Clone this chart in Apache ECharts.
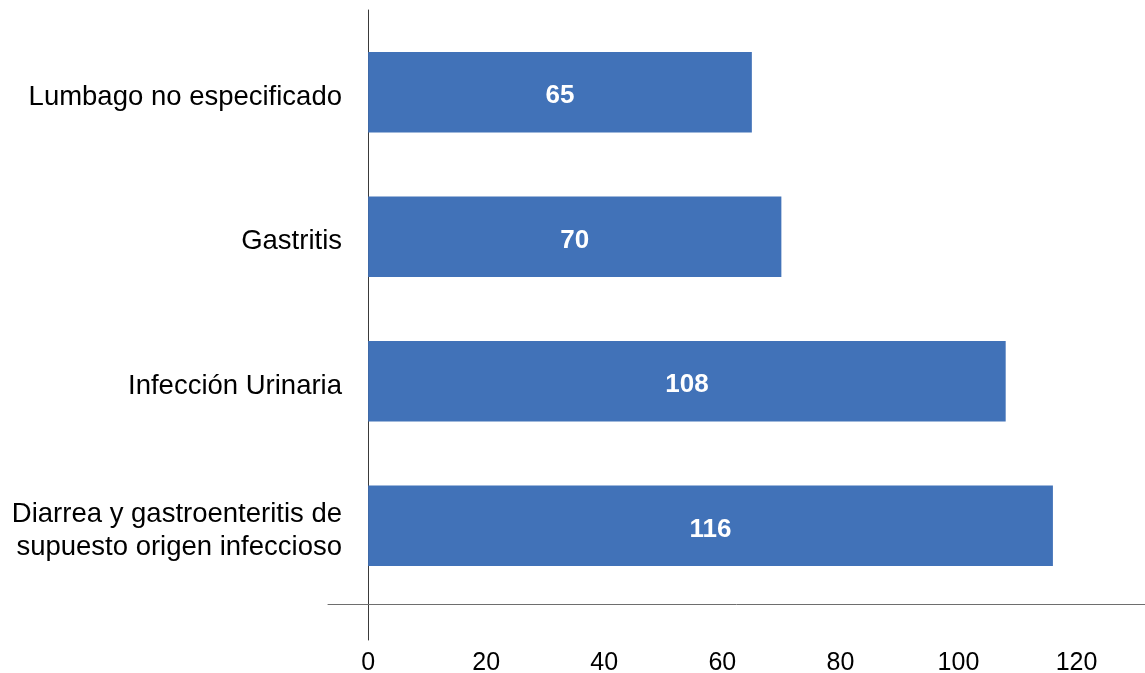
<!DOCTYPE html>
<html>
<head>
<meta charset="utf-8">
<script src="https://cdn.jsdelivr.net/npm/echarts@6/dist/echarts.min.js"></script>
<style>
html,body{margin:0;padding:0;background:#fff;}
#chart{width:1145px;height:673px;}
</style>
</head>
<body>
<div id="chart"></div>
<script>
const categories = [
  'Lumbago no especificado',
  'Gastritis',
  'Infección Urinaria',
  'Diarrea y gastroenteritis de\nsupuesto origen infeccioso'
];
const values = [65, 70, 108, 116];
const tickValues = [0, 20, 40, 60, 80, 100, 120];

const FONT = '"Liberation Sans", Arial, Helvetica, sans-serif';
const X_MIN = -6.8, X_MAX = 131.6;

const chart = echarts.init(document.getElementById('chart'));
chart.setOption({
  backgroundColor: '#ffffff',
  animation: false,
  grid: [
    { left: 328, right: 0, top: 20, bottom: 75, containLabel: false, outerBoundsMode: 'none' },
    { left: 328, right: 0, top: 10, bottom: 33, containLabel: false, outerBoundsMode: 'none' }
  ],
  xAxis: [
    {
      gridIndex: 0, type: 'value', min: X_MIN, max: X_MAX, position: 'bottom', offset: 6,
      axisLine: { show: true, onZero: false, lineStyle: { color: '#6e6e6e', width: 1 } },
      axisTick: { show: false },
      splitLine: { show: false },
      axisLabel: {
        customValues: tickValues,
        margin: 47, color: '#000', fontSize: 25, fontFamily: FONT
      }
    },
    {
      gridIndex: 1, type: 'value', min: X_MIN, max: X_MAX, show: false
    }
  ],
  yAxis: [
    {
      gridIndex: 0, type: 'category', inverse: true, data: categories,
      axisLine: { show: false },
      axisTick: { show: false },
      axisLabel: {
        margin: -14, color: '#000', fontSize: 27.5, lineHeight: 32.5, fontFamily: FONT,
        align: 'right',
        formatter: function (v) {
          return v.split('\n').map(function (s) { return '{t|' + s + '}'; }).join('\n');
        },
        rich: {
          t: {
            color: '#000', fontSize: 27.5, lineHeight: 32.5, fontFamily: FONT,
            padding: [10, 0, 0, 0]
          }
        }
      }
    },
    {
      gridIndex: 1, type: 'category', data: [''],
      axisLine: { show: true, onZero: true, lineStyle: { color: '#3a3a3a', width: 1 } },
      axisTick: { show: false },
      axisLabel: { show: false }
    }
  ],
  series: [
    {
      type: 'bar', xAxisIndex: 0, yAxisIndex: 0,
      data: values,
      barWidth: '55.8%',
      itemStyle: { color: '#4172b8' },
      label: {
        show: true, position: 'inside', color: '#fff', fontWeight: 'bold',
        fontSize: 26, fontFamily: FONT, offset: [0, 4]
      }
    }
  ]
});
</script>
</body>
</html>
